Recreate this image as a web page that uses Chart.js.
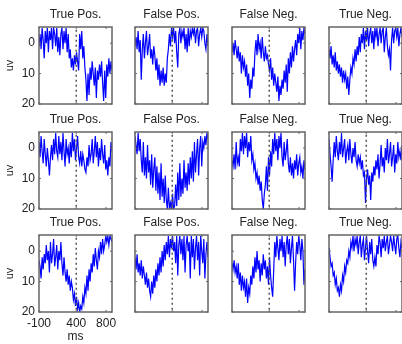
<!DOCTYPE html>
<html>
<head>
<meta charset="utf-8">
<script src="https://cdn.jsdelivr.net/npm/chart.js@4.4.0/dist/chart.umd.min.js"></script>
<style>
body { margin: 0; background: #fff; width: 402px; height: 344px; overflow: hidden; position: relative; }
canvas { position: absolute; }
</style>
</head>
<body>
<script>
var colTitles = ['True Pos.', 'False Pos.', 'False Neg.', 'True Neg.'];
var xTicks = [-100, 400, 800];
var yTicks = [0, 10, 20];
var stimTime = 400;
var tStart = -100, tStep = 14;   // 71 samples, -100 .. 880 ms

// row 1
var tpRow1 = [1, -3, 2, -5, -1, 5, -4, 0, -5, 3, -4, -1, -5, 2, -5, -3, 1, -5, 3, -2,
              4, -3, -5, 2, -4, 0, -5, 3, -3, 5, 2, 8, 5, 9, 4, 7, 3, 6, 9, -3,
              2, -4, 5, 1, 8, 12, 19, 10, 17, 8, 12, 6, 10, 14, 8, 18, 9, 12, 7, 11,
              6, 13, 19, 9, 18, 7, 11, 5, 10, 6, 9];
var fpRow1 = [1, -2, 2, -4, 3, -1, 12, 2, -3, 5, 0, -4, 4, 1, -3, 5, 2, 7, 1, 4,
              9, 5, 12, 7, 14, 9, 13, 8, 14, 10, 13, 5, 2, -3, 1, -5, -2, -5, 0, -4,
              3, 8, -3, -5, 0, -4, -2, -5, 2, -3, 3, -5, 1, -4, -2, -5, -3, -5, 0, -4,
              -5, 1, -3, -5, -2, -5, -4, 0, 2, -3, 1];
var fnRow1 = [3, 0, 4, -1, 2, 5, 1, 6, 3, 10, 4, 8, 6, 11, 7, 14, 10, 18, 12, 15,
              8, 11, 3, -1, 4, -3, 2, 0, 5, -2, 3, 6, 1, 5, 4, 7, 9, 5, 12, 8,
              14, 10, 13, 16, 11, 19, 14, 17, 12, 15, 9, 13, 7, 16, 5, 10, 3, 8, 1, 6,
              2, -1, 4, -3, 0, -5, 2, -4, -1, -5, -3];
var tnRow1 = [2, 5, 1, 7, 4, 8, 3, 9, 6, 10, 7, 11, 8, 13, 9, 12, 10, 15, 11, 17,
              12, 8, 10, 5, 7, 2, 6, 1, 4, -2, 3, -3, 0, -5, 2, -4, -1, -5, 1, -3,
              -5, 0, -4, 2, -5, -2, -5, 1, -3, -5, 0, -4, -5, 3, -2, -5, 1, 4, 2, 9,
              -1, -5, 0, -4, -5, -2, -5, 1, -3, -5, -2];

// row 2
var tpRow2 = [-2, 3, -4, 1, 5, -3, 2, 6, 0, 4, 9, 3, -1, 4, -3, 2, -5, 1, 3, -4,
              2, -2, 4, -5, 1, 6, -3, 2, 0, 5, -2, 3, -5, 1, -3, 4, 0, -4, 3, 5,
              1, 6, 2, 4, 7, 8, 3, 6, -1, 4, 2, -3, 5, 1, -4, 3, -2, 6, 0, 4,
              -3, 2, 5, -1, 7, 4, 9, 3, 6, -2, 1];
var fpRow2 = [-4, -1, 2, -5, 1, -3, 4, 8, -2, 9, 3, 10, -1, 8, 4, 12, 2, 13, 7, 3,
              14, 6, 15, 8, 17, 5, 16, 10, 18, 9, 17, 20, 13, 20, 18, 20, 15, 20, 19, 12,
              19, 8, 17, 5, 16, 10, 15, 4, 13, 8, 14, 5, 12, 3, 10, 1, 11, -2, 8, 2,
              -3, 9, 0, -4, 6, -2, 0, -4, -1, -5, -3];
var fnRow2 = [4, 6, 2, 7, -2, 5, 3, 6, -3, 1, -5, 2, -4, 0, -5, 3, -2, 1, -4, 4,
              2, 7, 5, 10, 8, 12, 9, 14, 11, 17, 20, 15, 12, 6, 14, 3, 9, 1, 6, -3,
              2, -5, 1, -3, 4, -4, 0, -5, 3, 6, -2, 4, 1, -3, 5, 8, 3, 9, 5, 10,
              4, 7, 2, 9, 5, 3, 8, 6, 10, 4, 7];
var tnRow2 = [-3, 2, 6, 11, 4, -2, 3, -4, 1, 4, -2, 2, -5, 3, 0, -3, 5, 1, -1, 4,
              -3, 2, 5, 0, 3, -2, 4, 6, 2, 5, 3, 7, 4, 9, 8, 18, 10, 7, 12, 9,
              17, 8, 11, 6, 9, 4, 7, 2, 10, 5, -1, 6, 3, 8, 0, 4, -3, 5, 2, -2,
              6, 3, -1, 8, 2, 5, -2, 3, 1, 4, -1];

// row 3
var tpRow3 = [3, 5, 9, 2, 6, 1, 4, -2, 3, 0, 7, -3, 4, 1, -4, 5, 2, -2, 6, 0,
              3, -3, 4, 8, 2, 7, 10, 6, 11, 8, 13, 10, 12, 16, 14, 18, 15, 19, 17, 20,
              18, 19, 15, 17, 12, 14, 8, 13, 6, 10, 4, 7, 1, 5, -1, 3, 6, 0, 2, -3,
              1, -4, 0, -2, -5, -3, -5, -2, -5, -4, -3];
var fpRow3 = [2, 6, 1, 7, 4, 8, 3, 9, 5, 8, 11, 7, 12, 9, 13, 15, 10, 14, 8, 12,
              6, 10, 4, 8, 2, 7, 0, 5, -2, 3, -3, 1, -5, 2, -4, -1, -5, 0, -3, 4,
              -5, 8, -2, -5, 1, -4, 3, -5, 7, -2, -5, 0, -3, 9, -5, 2, -4, 6, -1, -5,
              3, -3, 8, -5, 0, 4, -4, 9, 1, -3, 2];
var fnRow3 = [4, 6, 3, 7, 5, 9, 4, 11, 7, 13, 8, 12, 10, 15, 9, 17, 12, 14, 8, 11,
              5, 9, 2, 7, 0, 6, 3, 10, 4, 8, 1, 6, 3, 9, 5, 11, 2, 8, 12, 15,
              6, -3, 2, -5, -1, 3, -4, 0, -5, 2, -3, 5, -2, -5, 1, -4, 4, -1, -5, 3,
              13, 4, -3, 1, -5, -2, 3, -4, 0, 11, 6];
var tnRow3 = [-1, 2, 5, 4, 8, 7, 11, 9, 13, 12, 15, 11, 13, 8, 10, 5, 7, 3, 4, 0,
              2, -3, -1, -5, 0, -4, -2, -5, 1, -3, -5, 2, -2, -4, 3, -1, -5, 0, 4, -3,
              1, -4, 3, 5, 2, 5, -2, 1, -5, -3, 2, -4, -1, -5, 0, -3, -5, 1, -2, -5,
              -3, 0, -5, -2, 1, -4, -5, -1, 2, -3, -1];

var rows = [
    [tpRow1, fpRow1, fnRow1, tnRow1],
    [tpRow2, fpRow2, fnRow2, tnRow2],
    [tpRow3, fpRow3, fnRow3, tnRow3]
];

var panelLeft = [39, 135, 232, 329];
var panelTop = [27, 132, 235];
var plotW = 73, plotH = 77;
var padL = 40, padR = 20, padT = 18, padB = 36;
var font = 'Liberation Sans, Arial, Helvetica, sans-serif';

// box round the plot plus small inward ticks, matlab style
var framePlugin = {
    id: 'frame',
    afterDatasetsDraw: function (chart) {
        var a = chart.chartArea, ctx = chart.ctx;
        var xs = chart.scales.x, ys = chart.scales.y;
        ctx.save();
        ctx.strokeStyle = '#666';
        ctx.lineWidth = 1;
        ctx.beginPath();
        yTicks.forEach(function (v) {
            var y = ys.getPixelForValue(v);
            ctx.moveTo(a.left, y); ctx.lineTo(a.left + 2, y);
            ctx.moveTo(a.right, y); ctx.lineTo(a.right - 2, y);
        });
        xTicks.forEach(function (v) {
            var x = xs.getPixelForValue(v);
            ctx.moveTo(x, a.bottom); ctx.lineTo(x, a.bottom - 2);
            ctx.moveTo(x, a.top); ctx.lineTo(x, a.top + 2);
        });
        ctx.stroke();
        ctx.lineWidth = 1.5;
        ctx.strokeRect(a.left, a.top, a.right - a.left, a.bottom - a.top);
        ctx.restore();
    }
};

function makePanel(r, c) {
    var cv = document.createElement('canvas');
    cv.width = padL + plotW + padR;
    cv.height = padT + plotH + padB;
    cv.style.left = (panelLeft[c] - padL) + 'px';
    cv.style.top = (panelTop[r] - padT) + 'px';
    document.body.appendChild(cv);

    var series = rows[r][c];
    var pts = series.map(function (v, i) { return { x: tStart + i * tStep, y: v }; });
    var firstCol = c === 0;
    var bottomLeft = c === 0 && r === rows.length - 1;

    new Chart(cv.getContext('2d'), {
        type: 'line',
        data: {
            datasets: [{
                data: [{ x: stimTime, y: -6 }, { x: stimTime, y: 21 }],
                borderColor: '#555',
                borderWidth: 1.5,
                borderDash: [2, 3],
                pointRadius: 0
            }, {
                data: pts,
                borderColor: '#0000ff',
                borderWidth: 1.2,
                pointRadius: 0,
                tension: 0
            }]
        },
        options: {
            responsive: false,
            animation: false,
            layout: { padding: { left: 0, right: padR, top: 0, bottom: 0 } },
            plugins: {
                legend: { display: false },
                tooltip: { enabled: false },
                title: {
                    display: true,
                    fullSize: false,
                    text: colTitles[c],
                    color: '#222',
                    font: { family: font, size: 12, weight: 'normal', lineHeight: 1 },
                    padding: { top: 0, bottom: 6 }
                }
            },
            scales: {
                x: {
                    type: 'linear',
                    min: -100,
                    max: 880,
                    grid: { display: false, drawTicks: false },
                    border: { display: false },
                    ticks: {
                        display: bottomLeft,
                        color: '#222',
                        padding: 4,
                        maxRotation: 0,
                        font: { family: font, size: 12 }
                    },
                    title: {
                        display: bottomLeft,
                        text: 'ms',
                        color: '#222',
                        font: { family: font, size: 12 }
                    },
                    afterBuildTicks: function (s) {
                        s.ticks = xTicks.map(function (v) { return { value: v }; });
                    },
                    afterFit: function (s) {
                        s.height = padB;
                        s.paddingLeft = 0;
                        s.paddingRight = 0;
                    }
                },
                y: {
                    reverse: true,
                    min: -5.3,
                    max: 20,
                    grid: { display: false, drawTicks: false },
                    border: { display: false },
                    ticks: {
                        display: firstCol,
                        color: '#222',
                        padding: 4,
                        font: { family: font, size: 12 }
                    },
                    title: {
                        display: firstCol,
                        text: 'uv',
                        color: '#222',
                        font: { family: font, size: 11 }
                    },
                    afterBuildTicks: function (s) {
                        s.ticks = yTicks.map(function (v) { return { value: v }; });
                    },
                    afterFit: function (s) {
                        s.width = padL;
                        s.paddingTop = 0;
                        s.paddingBottom = 0;
                    }
                }
            }
        },
        plugins: [framePlugin]
    });
}

for (var r = 0; r < rows.length; r++) {
    for (var c = 0; c < colTitles.length; c++) {
        makePanel(r, c);
    }
}
</script>
</body>
</html>
